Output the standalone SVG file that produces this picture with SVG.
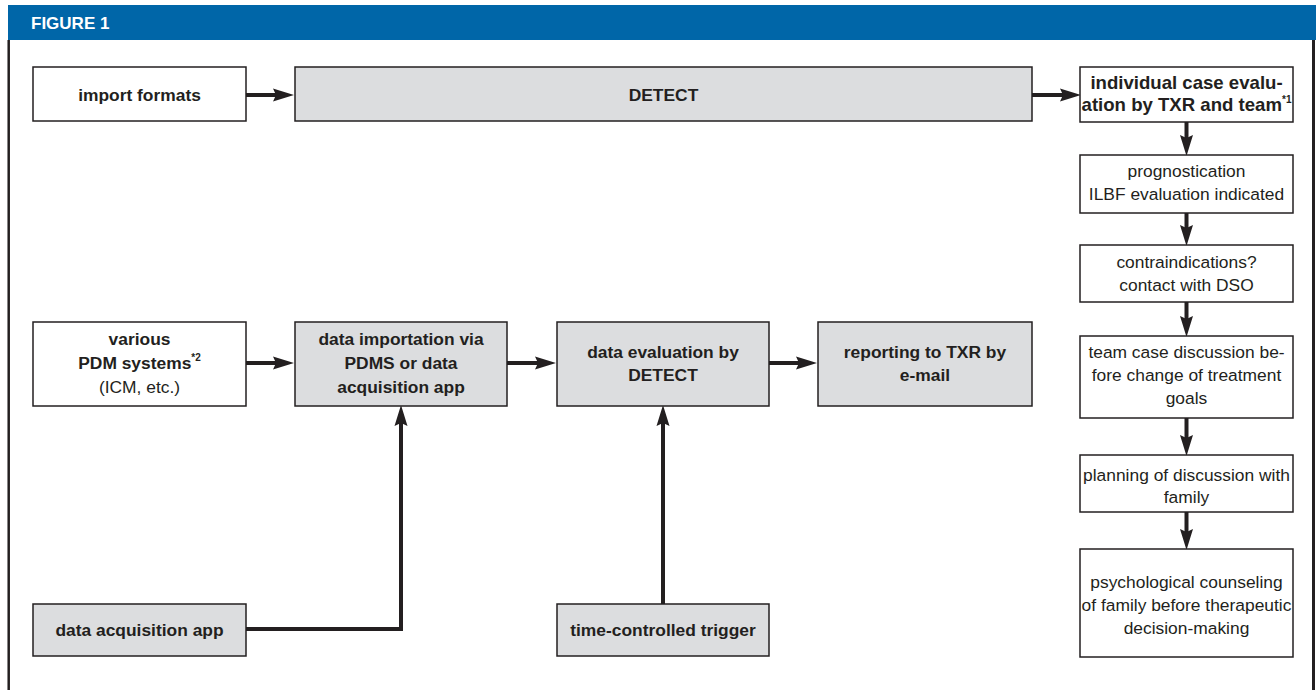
<svg xmlns="http://www.w3.org/2000/svg" width="1316" height="690" viewBox="0 0 1316 690">
<style>
.box{fill:#ffffff;stroke:#231f20;stroke-width:1.5}
.gray{fill:#dcdddf;stroke:#231f20;stroke-width:1.5}
.t{font-family:"Liberation Sans",Arial,sans-serif;font-size:17.4px;fill:#231f20;text-anchor:middle}
.b{font-weight:bold}
.big{font-size:18.6px}
.sup{font-size:10px;font-weight:bold}
.conn{fill:none;stroke:#231f20;stroke-width:4}
</style>
<defs>
<marker id="ah" markerUnits="userSpaceOnUse" markerWidth="22" markerHeight="14" refX="8" refY="7" orient="auto">
<path d="M0,0.5 L21,7 L0,13.5 L3,7 z" fill="#231f20"/>
</marker>
</defs>
<rect x="0" y="0" width="1316" height="690" fill="#ffffff"/>
<g id="frame">
<rect x="8" y="5" width="1308" height="35" fill="#0066a8"/>
<text x="31" y="29" style="font-family:'Liberation Sans',Arial,sans-serif;font-size:17px;font-weight:bold;fill:#ffffff">FIGURE 1</text>
<line x1="8.7" y1="40" x2="8.7" y2="690" stroke="#231f20" stroke-width="2.5"/>
<line x1="1313.5" y1="40" x2="1313.5" y2="690" stroke="#231f20" stroke-width="3"/>
</g>
<g id="connectors">
<line class="conn" x1="246" y1="95" x2="281" y2="95" marker-end="url(#ah)"/>
<line class="conn" x1="1032" y1="95" x2="1068" y2="95" marker-end="url(#ah)"/>
<line class="conn" x1="1186.5" y1="122" x2="1186.5" y2="143" marker-end="url(#ah)"/>
<line class="conn" x1="1186.5" y1="213" x2="1186.5" y2="233" marker-end="url(#ah)"/>
<line class="conn" x1="1186.5" y1="302" x2="1186.5" y2="324" marker-end="url(#ah)"/>
<line class="conn" x1="1186.5" y1="418" x2="1186.5" y2="443" marker-end="url(#ah)"/>
<line class="conn" x1="1186.5" y1="512" x2="1186.5" y2="537" marker-end="url(#ah)"/>
<line class="conn" x1="246" y1="363" x2="281" y2="363" marker-end="url(#ah)"/>
<line class="conn" x1="507" y1="363" x2="543" y2="363" marker-end="url(#ah)"/>
<line class="conn" x1="769" y1="363" x2="804" y2="363" marker-end="url(#ah)"/>
<polyline class="conn" points="246,629 401,629 401,418" marker-end="url(#ah)"/>
<line class="conn" x1="663" y1="604" x2="663" y2="418" marker-end="url(#ah)"/>
</g>
<g id="import-formats">
<rect class="box" x="33" y="67" width="213" height="54"/>
<text class="t b" x="139.5" y="101">import formats</text>
</g>
<g id="detect">
<rect class="gray" x="295" y="67" width="737" height="54"/>
<text class="t b" x="663.5" y="101">DETECT</text>
</g>
<g id="individual-case-evaluation">
<rect class="box" x="1080" y="67" width="213" height="55"/>
<text class="t b big" x="1186.5" y="89">individual case evalu-</text>
<text class="t b big" x="1186.5" y="111">ation by TXR and team<tspan class="sup" dy="-8">*1</tspan></text>
</g>
<g id="prognostication">
<rect class="box" x="1080" y="155" width="213" height="58"/>
<text class="t" x="1186.5" y="177">prognostication</text>
<text class="t" x="1186.5" y="200">ILBF evaluation indicated</text>
</g>
<g id="contraindications">
<rect class="box" x="1080" y="245" width="213" height="57"/>
<text class="t" x="1186.5" y="268">contraindications?</text>
<text class="t" x="1186.5" y="291">contact with DSO</text>
</g>
<g id="team-case-discussion">
<rect class="box" x="1080" y="336" width="213" height="82"/>
<text class="t" x="1186.5" y="358">team case discussion be-</text>
<text class="t" x="1186.5" y="381">fore change of treatment</text>
<text class="t" x="1186.5" y="404">goals</text>
</g>
<g id="planning">
<rect class="box" x="1080" y="455" width="213" height="57"/>
<text class="t" x="1186.5" y="481">planning of discussion with</text>
<text class="t" x="1186.5" y="503">family</text>
</g>
<g id="psychological-counseling">
<rect class="box" x="1080" y="549" width="213" height="108"/>
<text class="t" x="1186.5" y="588">psychological counseling</text>
<text class="t" x="1186.5" y="611">of family before therapeutic</text>
<text class="t" x="1186.5" y="634">decision-making</text>
</g>
<g id="various-pdm-systems">
<rect class="box" x="33" y="322" width="213" height="84"/>
<text class="t b" x="139.5" y="345">various</text>
<text class="t b" x="139.5" y="369">PDM systems<tspan class="sup" dy="-8">*2</tspan></text>
<text class="t" x="139.5" y="393">(ICM, etc.)</text>
</g>
<g id="data-importation">
<rect class="gray" x="295" y="322" width="212" height="84"/>
<text class="t b" x="401" y="345">data importation via</text>
<text class="t b" x="401" y="369">PDMS or data</text>
<text class="t b" x="401" y="393">acquisition app</text>
</g>
<g id="data-evaluation">
<rect class="gray" x="557" y="322" width="212" height="84"/>
<text class="t b" x="663" y="358">data evaluation by</text>
<text class="t b" x="663" y="381">DETECT</text>
</g>
<g id="reporting">
<rect class="gray" x="818" y="322" width="214" height="84"/>
<text class="t b" x="925" y="358">reporting to TXR by</text>
<text class="t b" x="925" y="381">e-mail</text>
</g>
<g id="data-acquisition-app">
<rect class="gray" x="33" y="604" width="213" height="52"/>
<text class="t b" x="139.5" y="636">data acquisition app</text>
</g>
<g id="time-controlled-trigger">
<rect class="gray" x="557" y="604" width="212" height="52"/>
<text class="t b" x="663" y="636">time-controlled trigger</text>
</g>
</svg>
